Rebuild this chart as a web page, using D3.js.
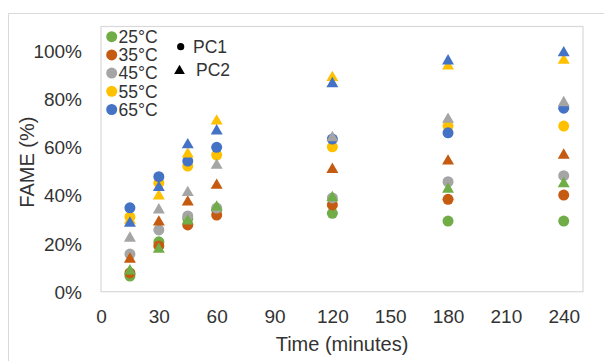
<!DOCTYPE html>
<html>
<head>
<meta charset="utf-8">
<script src="https://cdn.jsdelivr.net/npm/d3@7"></script>
<style>
  body { margin: 0; background: #fff; }
  text { font-family: "Liberation Sans", Arial, sans-serif; fill: #333; }
</style>
</head>
<body>
<svg id="chart"></svg>
<script>
// base settings
const width = 604;
const height = 361;

// data: FAME (%) vs time, one series per temperature, PC1 = circles, PC2 = triangles
const times = [15, 30, 45, 60, 120, 180, 240];
const temps = ["25°C", "35°C", "45°C", "55°C", "65°C"];
const colors = ["#70AD47", "#C55A11", "#A5A5A5", "#FFC000", "#4472C4"];

const pc1 = [
    [6.5, 20.7, 30.4, 33.9, 32.5, 29.3, 29.3],
    [7.8, 19.0, 27.7, 31.8, 36.0, 38.3, 40.1],
    [15.6, 25.6, 31.4, 34.7, 38.9, 45.6, 48.1],
    [31.0, 45.1, 52.1, 56.7, 60.1, 68.7, 68.7],
    [34.8, 47.7, 54.2, 59.9, 63.3, 65.9, 76.1]
];
const pc2 = [
    [9.0, 18.0, 29.7, 35.5, 39.4, 42.9, 45.2],
    [13.9, 29.3, 37.6, 44.5, 51.1, 54.6, 57.0],
    [22.6, 34.3, 41.5, 52.8, 64.3, 71.9, 78.8],
    [30.0, 40.1, 57.5, 71.2, 89.2, 94.0, 96.4],
    [28.8, 43.6, 61.3, 67.1, 86.7, 96.1, 99.5]
];

const xTicks = [0, 30, 60, 90, 120, 150, 180, 210, 240];
const yTicks = [0, 20, 40, 60, 80, 100];

// plot area
const plot = { left: 101, right: 583, top: 26.5, bottom: 291.7 };

const svg = d3.select('#chart')
    .attr('width', width).attr('height', height);

// outer chart frame
svg.append('path')
    .attr('d', `M8.5,${height} V13.5 H${width}`)
    .style('fill', 'none')
    .style('stroke', '#d9d9d9')
    .style('stroke-width', 1);

const x = d3.scaleLinear().domain([0, 250]).range([plot.left, plot.right]);
const y = d3.scaleLinear().domain([0, 110]).range([plot.bottom, plot.top]);

// plot area border
svg.append('rect')
    .attr('x', plot.left).attr('y', plot.top)
    .attr('width', plot.right - plot.left)
    .attr('height', plot.bottom - plot.top)
    .style('fill', 'none')
    .style('stroke', '#d9d9d9')
    .style('stroke-width', 1.2);

// axes (labels only, no lines)
const xAxis = svg.append('g')
    .attr('transform', `translate(0,${plot.bottom})`)
    .call(d3.axisBottom(x).tickValues(xTicks).tickSize(0).tickPadding(0));
xAxis.select('.domain').remove();
xAxis.selectAll('text')
    .attr('y', 0)
    .attr('dy', '31.6px')
    .style('font-size', '19px');

const yAxis = svg.append('g')
    .attr('transform', `translate(82,0)`)
    .call(d3.axisLeft(y).tickValues(yTicks).tickSize(0).tickPadding(0)
        .tickFormat(d => d + '%'));
yAxis.select('.domain').remove();
yAxis.selectAll('text')
    .attr('x', 0)
    .attr('dy', '0.35em')
    .style('font-size', '19px');

// axis titles
svg.append('text')
    .attr('x', (plot.left + plot.right) / 2)
    .attr('y', 351)
    .attr('text-anchor', 'middle')
    .style('font-size', '20px')
    .text('Time (minutes)');

svg.append('text')
    .attr('transform', `translate(33.5,${(plot.top + plot.bottom) / 2 + 3}) rotate(-90)`)
    .attr('text-anchor', 'middle')
    .style('font-size', '20px')
    .text('FAME (%)');

const tri = d3.symbol().type(d3.symbolTriangle).size(62);

// PC1 circles first, then PC2 triangles on top
pc1.forEach((vals, i) => {
    svg.append('g').selectAll('circle')
        .data(vals)
        .enter().append('circle')
        .attr('cx', (d, j) => x(times[j]))
        .attr('cy', d => y(d))
        .attr('r', 5.5)
        .style('fill', colors[i]);
});

pc2.forEach((vals, i) => {
    svg.append('g').selectAll('path')
        .data(vals)
        .enter().append('path')
        .attr('d', tri)
        .attr('transform', (d, j) => `translate(${x(times[j])},${y(d) + 1})`)
        .style('fill', colors[i]);
});

// temperature legend
const legend = svg.append('g');
temps.forEach((t, i) => {
    const ly = 36.7 + i * 18.2;
    legend.append('circle')
        .attr('cx', 111.7).attr('cy', ly).attr('r', 5.5)
        .style('fill', colors[i]);
    legend.append('text')
        .attr('x', 118.5).attr('y', ly)
        .attr('dy', '0.36em')
        .style('font-size', '17.5px')
        .text(t);
});

// marker legend
legend.append('circle')
    .attr('cx', 180.7).attr('cy', 46.7).attr('r', 3.6)
    .style('fill', '#000');
legend.append('text')
    .attr('x', 193).attr('y', 46.7).attr('dy', '0.36em')
    .style('font-size', '17.5px')
    .text('PC1');
legend.append('path')
    .attr('d', d3.symbol().type(d3.symbolTriangle).size(50))
    .attr('transform', 'translate(179.5,71)')
    .style('fill', '#000');
legend.append('text')
    .attr('x', 196).attr('y', 70).attr('dy', '0.36em')
    .style('font-size', '17.5px')
    .text('PC2');
</script>
</body>
</html>
